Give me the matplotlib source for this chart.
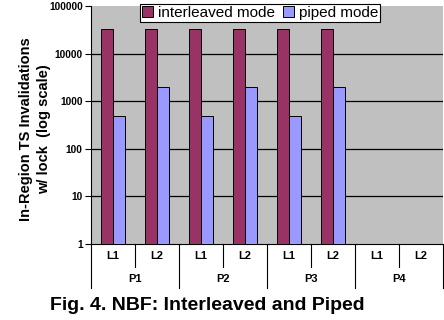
import numpy as np
import matplotlib.pyplot as plt
from matplotlib.transforms import blended_transform_factory

plt.rcParams['font.family'] = ['Liberation Sans', 'DejaVu Sans']

# data
procs = ["P1", "P2", "P3", "P4"]
levels = ["L1", "L2"]
interleaved = [33000, 33000, 33000, 33000, 33000, 33000, 0, 0]
piped = [500, 2000, 500, 2000, 500, 2000, 0, 0]
yticks = [1, 10, 100, 1000, 10000, 100000]

fig = plt.figure(figsize=(4.44, 3.2), dpi=100)
ax = fig.add_axes([91/444, 76/320, 352/444, 238/320])
ax.set_facecolor('#C0C0C0')

x = np.arange(len(interleaved)) + 0.5
w = 0.28
iv = np.array(interleaved, dtype=float)
pv = np.array(piped, dtype=float)
mi = iv > 0
mp = pv > 0
ax.bar(x[mi] - w/2, iv[mi], w, color='#993366', edgecolor='black', linewidth=0.7,
       label='interleaved mode', zorder=3)
ax.bar(x[mp] + w/2, pv[mp], w, color='#9999FF', edgecolor='black', linewidth=0.7,
       label='piped mode', zorder=3)

ax.set_yscale('log')
ax.set_ylim(1, 100000)
ax.set_xlim(0, len(interleaved))
for v in yticks[1:-1]:
    ax.axhline(v, color='black', linewidth=0.9, zorder=1)

ax.set_yticks(yticks)
ax.set_yticklabels([str(v) for v in yticks], fontsize=7.3, fontweight='bold')
ax.yaxis.set_minor_locator(plt.NullLocator())
ax.tick_params(axis='y', length=4, width=0.8, pad=2)
ax.set_xticks([])
for s in ['top', 'right']:
    ax.spines[s].set_visible(False)
ax.spines['left'].set_linewidth(0.8)
ax.spines['bottom'].set_linewidth(0.8)

# two-level category axis
tr = blended_transform_factory(ax.transData, ax.transAxes)
for i in range(len(interleaved)):
    ax.text(x[i], -0.05, levels[i % 2], transform=tr, ha='center', va='center',
            fontsize=8, fontweight='bold')
for i in range(len(interleaved) + 1):
    bottom = -0.185 if i % 2 == 0 else -0.097
    ax.plot([i, i], [0, bottom], transform=tr, color='black', linewidth=0.8,
            clip_on=False)
for j, p in enumerate(procs):
    ax.text(2*j + 1, -0.145, p, transform=tr, ha='center', va='center',
            fontsize=8, fontweight='bold')

leg = ax.legend(loc='upper center', bbox_to_anchor=(0.48, 1.01), ncol=2,
                fancybox=False, framealpha=1, edgecolor='black',
                prop={'size': 11}, handlelength=0.75, handleheight=0.75,
                handletextpad=0.3, columnspacing=0.5, borderpad=0.15,
                borderaxespad=0)
leg.get_frame().set_linewidth(0.8)

fig.text(35/444, 0.595, "In-Region TS Invalidations\nw/ lock  (log scale)",
         rotation=90, ha='center', va='center', fontsize=10.5, fontweight='bold',
         linespacing=1.4)
fig.text(207/444, 1 - 305/320, "Fig. 4. NBF: Interleaved and Piped",
         ha='center', va='center', fontsize=14, fontweight='bold')

fig.savefig('out.png', dpi=100)
